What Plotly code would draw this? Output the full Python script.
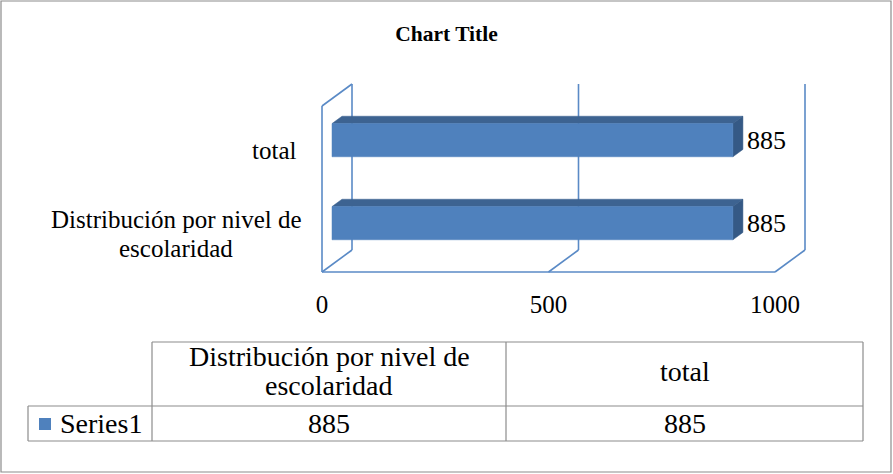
import textwrap
import plotly.graph_objects as go

# ---- data ----
categories = ["Distribución por nivel de escolaridad", "total"]
values = [885, 885]
series_name = "Series1"
tick_vals = [0, 500, 1000]
tick_text = ["0", "500", "1000"]
chart_title = "Chart Title"

# ---- style / geometry ----
W, H = 893, 474
FONT = "Liberation Serif"
FS_CAT = 25
FS_VAL = 26
FS_TICK = 25
FS_TAB = 28
BAR_FRONT = "#4F81BD"
BAR_TOP = "#3D6391"
BAR_SIDE = "#355985"
WALL = "#5A8AC6"
BORDER = "#8C8C8C"
WRAP = 25

# projection: pixel mapping of the axes
X0_PX, X_SCALE = 322, 0.453          # pixel of value 0, px per unit
Y0_PX, Y_SCALE = 230.5, 83.0         # pixel of category 0, px per unit
DX = 30 / X_SCALE                    # full-depth shift in value units
DY = 22 / Y_SCALE                    # full-depth shift in category units
F1, F2 = 1 / 3, 2 / 3                # bar depth range
HALF = 0.2                           # half bar height (category units)
LABEL_GAP = 4 / X_SCALE

x_range = [-X0_PX / X_SCALE, (W - X0_PX) / X_SCALE]
y_range = [(Y0_PX - H) / Y_SCALE, Y0_PX / Y_SCALE]


def proj(v, u, f):
    return v + f * DX, u + f * DY


def px(x):
    return x / W


def py(y):
    return 1 - y / H


fig = go.Figure()


def poly(points, color):
    xs = [p[0] for p in points] + [points[0][0]]
    ys = [p[1] for p in points] + [points[0][1]]
    fig.add_trace(go.Scatter(x=xs, y=ys, mode="lines", fill="toself",
                             fillcolor=color, line=dict(width=0.5, color=color),
                             hoverinfo="skip", showlegend=False))


def seg(a, b, width=1.6):
    fig.add_trace(go.Scatter(x=[a[0], b[0]], y=[a[1], b[1]], mode="lines",
                             line=dict(color=WALL, width=width),
                             hoverinfo="skip", showlegend=False))


lo, hi = -0.5, len(categories) - 0.5
vmax = tick_vals[-1]

# left wall
seg(proj(0, lo, 0), proj(0, hi, 0))
seg(proj(0, hi, 0), proj(0, hi, 1))
# back wall gridlines and floor diagonals
for t in tick_vals:
    seg(proj(t, lo, 1), proj(t, hi, 1))
    seg(proj(t, lo, 0), proj(t, lo, 1))
# floor front edge
seg(proj(0, lo, 0), proj(vmax, lo, 0))

# bars
for i, v in enumerate(values):
    b, t = i - HALF, i + HALF
    poly([proj(0, t, F1), proj(v, t, F1), proj(v, t, F2), proj(0, t, F2)], BAR_TOP)
    poly([proj(v, b, F1), proj(v, b, F2), proj(v, t, F2), proj(v, t, F1)], BAR_SIDE)
    poly([proj(0, b, F1), proj(v, b, F1), proj(v, t, F1), proj(0, t, F1)], BAR_FRONT)

# value labels
lx = [proj(v, i, F2)[0] + LABEL_GAP for i, v in enumerate(values)]
ly = [proj(v, i, F1)[1] - 0.03 for i, v in enumerate(values)]
fig.add_trace(go.Scatter(x=lx, y=ly, mode="text", text=[str(v) for v in values],
                         textposition="middle right",
                         textfont=dict(family=FONT, size=FS_VAL, color="black"),
                         hoverinfo="skip", showlegend=False, cliponaxis=False))

annotations = []


def text_lines(lines, cx, cy_px, spacing, size, anchor="center"):
    n = len(lines)
    for k, ln in enumerate(lines):
        yy = cy_px + (k - (n - 1) / 2) * spacing
        annotations.append(dict(x=px(cx), y=py(yy), xref="paper", yref="paper",
                                text=ln, showarrow=False, xanchor=anchor, yanchor="middle",
                                font=dict(family=FONT, size=size, color="black")))


# category labels
CAT_RIGHT = 298
for i, c in enumerate(categories):
    lines = textwrap.wrap(c, WRAP)
    cy = Y0_PX - i * Y_SCALE + 3
    if len(lines) == 1:
        text_lines(lines, CAT_RIGHT, cy, 29, FS_CAT, anchor="right")
    else:
        text_lines(lines, CAT_RIGHT - 122, cy, 29, FS_CAT)

# ---- data table ----
T_TOP, T_MID, T_BOT = 342, 406, 441
T_LEFT, T_KEY, T_RIGHT = 28, 152, 863
cols = [152, 506, 863]
shapes = []
line = dict(color=BORDER, width=1.2)
# outer chart border
shapes.append(dict(type="rect", xref="paper", yref="paper", x0=px(1), x1=px(891),
                   y0=py(472), y1=py(1), line=dict(color=BORDER, width=1.2)))
shapes.append(dict(type="line", xref="paper", yref="paper", x0=px(T_KEY), x1=px(T_RIGHT),
                   y0=py(T_TOP), y1=py(T_TOP), line=line))
shapes.append(dict(type="line", xref="paper", yref="paper", x0=px(T_LEFT), x1=px(T_RIGHT),
                   y0=py(T_MID), y1=py(T_MID), line=line))
shapes.append(dict(type="line", xref="paper", yref="paper", x0=px(T_LEFT), x1=px(T_RIGHT),
                   y0=py(T_BOT), y1=py(T_BOT), line=line))
shapes.append(dict(type="line", xref="paper", yref="paper", x0=px(T_LEFT), x1=px(T_LEFT),
                   y0=py(T_MID), y1=py(T_BOT), line=line))
for c in cols:
    shapes.append(dict(type="line", xref="paper", yref="paper", x0=px(c), x1=px(c),
                       y0=py(T_TOP), y1=py(T_BOT), line=line))
# legend key
shapes.append(dict(type="rect", xref="paper", yref="paper", x0=px(39), x1=px(51),
                   y0=py(430), y1=py(418), fillcolor=BAR_FRONT, line=dict(width=0)))
text_lines([series_name], 58, (T_MID + T_BOT) / 2, 29, FS_TAB, anchor="left")
for j, (c, v) in enumerate(zip(categories, values)):
    cx = (cols[j] + cols[j + 1]) / 2
    text_lines(textwrap.wrap(c, WRAP), cx, (T_TOP + T_MID) / 2 - 3, 29, FS_TAB)
    text_lines([str(v)], cx, (T_MID + T_BOT) / 2, 29, FS_TAB)

fig.update_layout(
    width=W, height=H,
    margin=dict(l=0, r=0, t=0, b=0),
    paper_bgcolor="white", plot_bgcolor="white",
    title=dict(text="<b>" + chart_title + "</b>", x=0.5, xanchor="center",
               y=py(33), yanchor="middle", yref="paper",
               font=dict(family=FONT, size=21.5, color="black")),
    xaxis=dict(range=x_range, domain=[0, 1], anchor="free", position=py(272),
               tickvals=tick_vals, ticktext=tick_text, ticks="outside", ticklen=10,
               tickcolor="rgba(0,0,0,0)", showgrid=False, zeroline=False, showline=False,
               tickfont=dict(family=FONT, size=FS_TICK, color="black"), fixedrange=True),
    yaxis=dict(range=y_range, domain=[0, 1], visible=False, fixedrange=True),
    shapes=shapes, annotations=annotations, showlegend=False,
)

fig.write_html("out.html", config={"displayModeBar": False},
               post_script="document.body.style.margin='0';document.body.style.overflow='hidden';")
